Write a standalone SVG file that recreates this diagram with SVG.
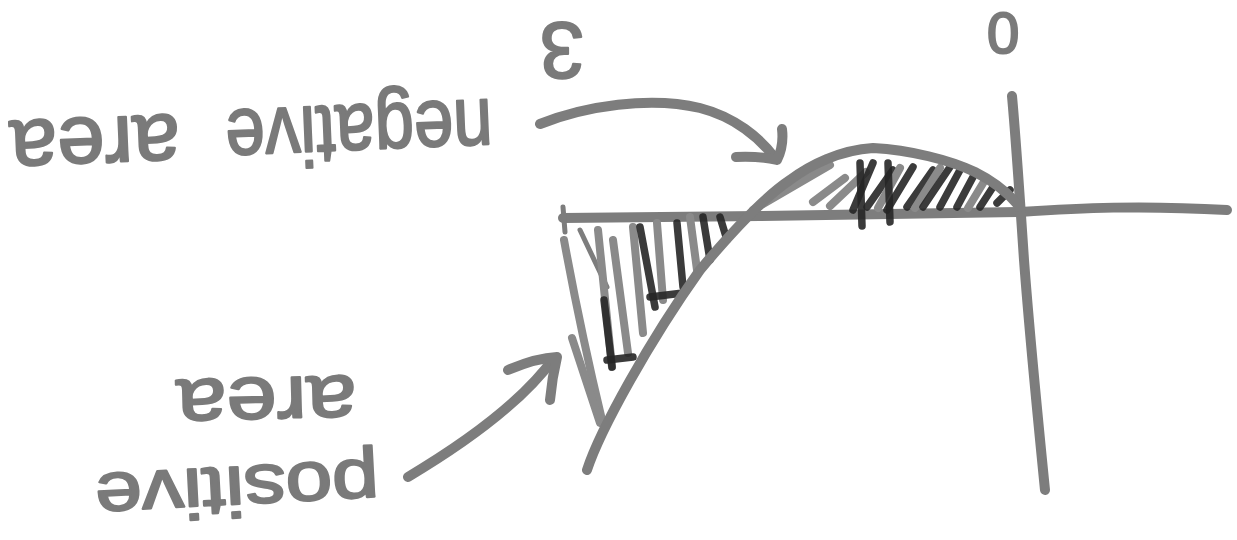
<svg xmlns="http://www.w3.org/2000/svg" width="1237" height="540" viewBox="0 0 1237 540">
  <style>
    .ink { fill: none; stroke: #7d7d7d; stroke-width: 10; stroke-linecap: round; stroke-linejoin: round; }
    .thin { fill: none; stroke: #7d7d7d; stroke-width: 5; stroke-linecap: round; }
    .hatch { fill: none; stroke: #8a8a8a; stroke-width: 8; stroke-linecap: round; }
    .dark { fill: none; stroke: #262626; stroke-width: 7.5; stroke-linecap: round; opacity: 0.9; }
    .label { font-family: "Liberation Sans", Arial, sans-serif; fill: #7a7a7a; stroke: #7a7a7a; stroke-width: 2.2; stroke-linejoin: round; text-anchor: middle; }
  </style>

  <rect width="1237" height="540" fill="#ffffff"/>

  <!-- axes -->
  <g id="axes">
    <path class="ink" d="M563,218 L760,216 L1020,212 C1080,208 1140,205 1227,210"/>
    <path class="thin" d="M563,207 L565,232"/>
    <path class="ink" d="M1012,96 C1016,140 1020,200 1024,260 C1030,340 1038,420 1045,490"/>
  </g>

  <!-- shaded regions between the curve and the axis -->
  <g id="hatching-positive">
    <path class="hatch" d="M564,240 C575,300 590,370 602,420"/>
    <path class="hatch" d="M572,338 L600,423"/>
    <path class="thin" d="M580,230 L607,287" stroke-width="2.5"/>
    <path class="hatch" d="M598,230 L612,367"/>
    <path class="dark" d="M604,300 L612,367"/>
    <path class="hatch" d="M613,240 L628,353"/>
    <path class="hatch" d="M633,227 L643,333"/>
    <path class="dark" d="M640,227 L655,307"/>
    <path class="hatch" d="M657,223 L663,300"/>
    <path class="dark" d="M677,223 L683,287"/>
    <path class="hatch" d="M690,217 L697,270"/>
    <path class="dark" d="M703,217 L710,260"/>
    <path class="dark" d="M720,217 L727,240"/>
    <path class="dark" d="M650,297 L683,293"/>
    <path class="dark" d="M607,360 L633,357"/>
  </g>

  <g id="hatching-negative">
    <path class="hatch" d="M753,210 L830,165"/>
    <path class="hatch" d="M813,202 L845,178"/>
    <path class="hatch" d="M830,206 L866,172"/>
    <path class="dark" d="M853,210 L873,163"/>
    <path class="dark" d="M867,207 L893,170"/>
    <path class="hatch" d="M878,208 L900,168"/>
    <path class="dark" d="M887,210 L913,167"/>
    <path class="dark" d="M907,207 L933,170"/>
    <path class="hatch" d="M915,208 L940,168"/>
    <path class="dark" d="M923,207 L950,167"/>
    <path class="dark" d="M940,207 L960,170"/>
    <path class="dark" d="M957,207 L973,177"/>
    <path class="hatch" d="M968,208 L985,180"/>
    <path class="dark" d="M980,207 L993,187"/>
    <path class="dark" d="M997,203 L1010,190"/>
    <path class="dark" d="M860,163 L862,226"/>
    <path class="dark" d="M888,163 L890,222"/>
  </g>

  <!-- the function graph -->
  <g id="curve">
    <path class="ink" d="M587,470 C600,430 650,340 700,270 C725,240 760,200 790,180 C810,165 840,150 873,148 C910,150 950,160 975,172 C995,182 1010,195 1020,207"/>
  </g>

  <!-- labels (written upside down) -->
  <g id="labels">
    <text class="label" font-size="84" textLength="267" lengthAdjust="spacingAndGlyphs" transform="translate(358,105) rotate(177.6)">negative</text>
    <text class="label" font-size="84" textLength="170" lengthAdjust="spacingAndGlyphs" transform="translate(94,118) rotate(177.6)">area</text>
    <text class="label" font-size="70" textLength="284" lengthAdjust="spacingAndGlyphs" transform="translate(236,467) rotate(177)">positive</text>
    <text class="label" font-size="76" textLength="180" lengthAdjust="spacingAndGlyphs" transform="translate(266,378) rotate(178.5)">area</text>
    <text class="label" font-size="80" transform="translate(562,23) rotate(180)">3</text>
    <text class="label" font-size="58" transform="translate(1003,13) rotate(180)">0</text>
  </g>

  <!-- arrows pointing at the two regions -->
  <g id="connectors">
    <path class="ink" d="M540,124 C585,106 650,96 700,108 C735,117 760,138 775,158"/>
    <path class="ink" d="M736,157 Q760,156 777,160 Q784,146 782,129"/>
    <path class="ink" d="M408,477 C460,446 520,405 554,358"/>
    <path class="ink" d="M508,370 Q536,358 557,357 Q552,378 550,400"/>
  </g>
</svg>
